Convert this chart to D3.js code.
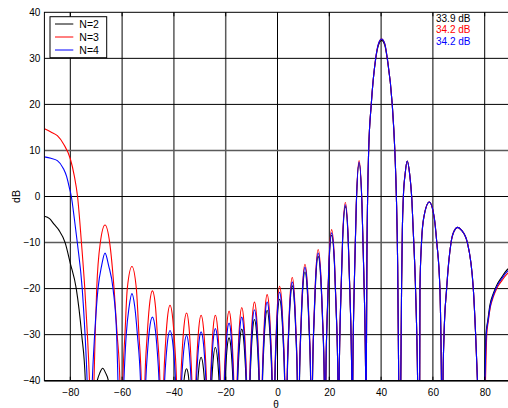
<!DOCTYPE html>
<html><head><meta charset="utf-8">
<script src="https://cdn.jsdelivr.net/npm/d3@7"></script>
<style>
html,body{margin:0;padding:0;background:#fff;}
svg{display:block;font-family:"Liberation Sans",Arial,sans-serif;}
</style></head>
<body><svg id="c" width="508" height="408"></svg>
<script>
// ---- data (theta in degrees, level in dB; -60 marks a null below the axis) ----
const xTicks = [-80, -60, -40, -20, 0, 20, 40, 60, 80];
const yTicks = [-40, -30, -20, -10, 0, 10, 20, 30, 40];
const seriesNames = ["N=2", "N=3", "N=4"];
const peakLabels = ["33.9 dB", "34.2 dB", "34.2 dB"];

const n2 = [
 [-90,-4.3],[-88,-4.8],[-86.3,-6.0],[-84.4,-7.3],[-82.0,-10],[-80,-14.5],[-77.7,-20],[-75.6,-30],[-74.2,-40],[-73.4,-60],
 [-69.6,-40],[-68.6,-38.3],[-67.5,-37.3],[-66.4,-38.3],[-65.3,-40],[-63.5,-60],[-38.2,-60],
 [-36.12,-40],[-35.82,-38.7],[-35.1,-37.4],[-34.45,-38.7],[-34.18,-40],[-32.3,-60],
 [-30.76,-40],[-30.39,-37.45],[-29.5,-34.9],[-28.58,-37.45],[-28.19,-40],[-26.6,-60],
 [-25.38,-40],[-24.97,-36.4],[-24.0,-32.8],[-22.99,-36.4],[-22.57,-40],[-21.3,-60],
 [-20.26,-40],[-19.8,-35.35],[-19.4,-32.56],[-18.7,-30.7],[-18.03,-32.56],[-17.64,-35.35],[-17.2,-40],[-16.2,-60],
 [-15.38,-40],[-14.92,-34.4],[-14.51,-31.04],[-13.8,-28.8],[-13.06,-31.04],[-12.63,-34.4],[-12.15,-40],[-11.3,-60],
 [-10.58,-40],[-10.09,-33.35],[-9.65,-29.36],[-8.9,-26.7],[-8.12,-29.36],[-7.66,-33.35],[-7.15,-40],[-6.4,-60],
 [-5.78,-40],[-5.26,-32.35],[-4.8,-27.76],[-4.0,-24.7],[-3.17,-27.76],[-2.69,-32.35],[-2.15,-40],[-1.5,-60],
 [-0.99,-40],[-0.47,-31.15],[0.0,-25.84],[0.8,-22.3],[1.67,-25.84],[2.18,-31.15],[2.75,-40],[3.3,-60],
 [3.76,-40],[4.33,-29.7],[4.83,-23.52],[5.7,-19.4],[6.57,-23.52],[7.07,-29.7],[7.64,-40],[8.1,-60],
 [8.5,-40],[9.12,-28.2],[9.66,-21.12],[10.6,-16.4],[11.57,-21.12],[12.14,-28.2],[12.78,-40],[13.2,-60],
 [13.52,-40],[14.16,-26.5],[14.73,-18.4],[15.7,-13.0],[16.75,-18.4],[17.36,-26.5],[18.05,-40],[18.4,-60],
 [18.65,-40],[19.31,-24.2],[19.89,-14.72],[20.9,-8.4],[21.99,-14.72],[22.62,-24.2],[23.33,-40],[23.6,-60],
 [23.81,-40],[24.51,-21.1],[25.13,-9.76],[26.2,-2.2],[27.31,-9.76],[27.96,-21.1],[28.68,-40],[28.9,-60],
 [29.06,-40],[29.77,-16.35],[30.41,-2.16],[31.5,7.3],[32.63,-2.16],[33.3,-16.35],[34.04,-40],[34.15,-60],
 [34.3,-40],[34.5,-15],[34.8,0],[35.2,10],[36.2,20],[37.9,29.8],[39.0,32.9],[40.2,33.9],[41.4,32.9],[42.4,29.8],[44.3,20],[45.3,10],[45.9,0],[46.4,-15],[46.8,-40],[47.2,-60],
 [47.6,-40],[47.9,-20],[48.2,-7.3],[48.6,0],[49.3,5],[50.1,7.7],[51.0,5],[51.8,0],[52.4,-7.3],[53.3,-20],[54.1,-40],[54.5,-60],
 [54.9,-40],[55.0,-20],[55.6,-10],[56.5,-4.5],[58.6,-1.2],[60.5,-4.5],[61.5,-10],[62.7,-20],[63.3,-40],[63.6,-60],
 [63.9,-40],[64.3,-30],[65.3,-20],[67.0,-10],[68.2,-7.5],[69.6,-6.7],[71.0,-7.3],[73.3,-10],[75.6,-20],[76.5,-30],[77.2,-40],[78.6,-60],
 [80.0,-40],[80.5,-30],[81.2,-26.9],[82.0,-23.6],[83.3,-21.1],[84.6,-19.3],[86.6,-17.5],[89.1,-15.7],[90,-15.5]
];

const n3 = [
 [-90,14.7],[-87.5,14.0],[-85,13.2],[-82.5,11.3],[-80,8.2],[-78.5,4.6],[-77.2,0],[-75.7,-10],[-74.4,-20],[-73.4,-30],[-72.6,-40],[-71.6,-60],
 [-70.85,-40],[-70.4,-30],[-69.8,-20],[-68.4,-10],[-66.6,-6.2],[-64.8,-10],[-63.1,-20],[-61.9,-30],[-60.85,-40],[-60.3,-60],
 [-59.7,-40],[-58.9,-30],[-58.0,-20],[-56.2,-15.2],[-54.5,-20],[-53.5,-30],[-52.6,-40],[-51.9,-60],
 [-51.2,-40],[-50.3,-30],[-49.5,-24],[-48.3,-20.5],[-47.1,-24],[-46.4,-30],[-45.4,-40],[-44.7,-60],
 [-43.93,-40],[-43.22,-31.8],[-42.59,-26.9],[-41.5,-23.6],[-40.38,-26.9],[-39.73,-31.8],[-38.99,-40],[-38.2,-60],
 [-37.36,-40],[-36.70,-32.65],[-36.11,-28.2],[-35.1,-25.3],[-34.19,-28.2],[-33.66,-32.65],[-33.06,-40],[-32.3,-60],
 [-31.52,-40],[-30.93,-32.9],[-30.40,-28.6],[-29.5,-25.8],[-28.57,-28.6],[-28.02,-32.9],[-27.41,-40],[-26.6,-60],
 [-25.87,-40],[-25.32,-32.9],[-24.84,-28.6],[-24.0,-25.8],[-23.13,-28.6],[-22.63,-32.9],[-22.06,-40],[-21.3,-60],
 [-20.6,-40],[-20.04,-32.45],[-19.55,-27.9],[-18.7,-24.9],[-17.88,-27.9],[-17.41,-32.45],[-16.87,-40],[-16.2,-60],
 [-15.6,-40],[-15.07,-32.05],[-14.6,-27.3],[-13.8,-24.1],[-12.96,-27.3],[-12.47,-32.05],[-11.93,-40],[-11.3,-60],
 [-10.75,-40],[-10.21,-31.45],[-9.73,-26.3],[-8.9,-22.9],[-8.04,-26.3],[-7.54,-31.45],[-6.97,-40],[-6.4,-60],
 [-5.9,-40],[-5.34,-30.65],[-4.85,-25.0],[-4.0,-21.3],[-3.12,-25.0],[-2.6,-30.65],[-2.02,-40],[-1.5,-60],
 [-1.06,-40],[-0.52,-29.75],[-0.03,-23.6],[0.8,-19.5],[1.71,-23.6],[2.23,-29.75],[2.83,-40],[3.3,-60],
 [3.71,-40],[4.29,-28.8],[4.81,-22.1],[5.7,-17.6],[6.59,-22.1],[7.11,-28.8],[7.69,-40],[8.1,-60],
 [8.45,-40],[9.08,-27.35],[9.64,-19.8],[10.6,-14.7],[11.6,-19.8],[12.18,-27.35],[12.84,-40],[13.2,-60],
 [13.5,-40],[14.14,-25.75],[14.72,-17.2],[15.7,-11.5],[16.76,-17.2],[17.38,-25.75],[18.08,-40],[18.4,-60],
 [18.65,-40],[19.31,-23.6],[19.89,-13.76],[20.9,-7.2],[21.99,-13.76],[22.62,-23.6],[23.33,-40],[23.6,-60],
 [23.81,-40],[24.51,-20.65],[25.13,-9.04],[26.2,-1.3],[27.31,-9.04],[27.96,-20.65],[28.68,-40],[28.9,-60],
 [29.06,-40],[29.77,-16.1],[30.41,-1.76],[31.5,7.8],[32.63,-1.76],[33.3,-16.1],[34.04,-40],[34.15,-60],
 [34.3,-40],[34.5,-15],[34.8,0],[35.2,10],[36.2,20],[37.9,30],[39.0,33.2],[40.2,34.2],[41.4,33.2],[42.4,30],[44.3,20],[45.3,10],[45.9,0],[46.4,-15],[46.8,-40],[47.2,-60],
 [47.6,-40],[47.9,-20],[48.2,-7.3],[48.6,0],[49.3,5],[50.1,7.7],[51.0,5],[51.8,0],[52.4,-7.3],[53.3,-20],[54.1,-40],[54.5,-60],
 [54.9,-40],[55.0,-20],[55.6,-10],[56.5,-4.5],[58.6,-1.2],[60.5,-4.5],[61.5,-10],[62.7,-20],[63.3,-40],[63.6,-60],
 [63.9,-40],[64.3,-30],[65.3,-20],[67.0,-10],[68.2,-7.5],[69.6,-6.7],[71.0,-7.3],[73.3,-10],[75.6,-20],[76.5,-30],[77.2,-40],[78.6,-60],
 [80.3,-40],[80.8,-30],[81.4,-27],[82.2,-24],[83.4,-21.7],[84.7,-19.9],[86.7,-18.2],[89.1,-16.6],[90,-16.4]
];

const n4 = [
 [-90,8.6],[-87.5,8.3],[-85,7.8],[-82.7,6.1],[-81.4,4.3],[-80.4,2],[-79.6,0],[-78.4,-5],[-77.3,-10],[-75.4,-20],[-74.3,-30],[-73.5,-40],[-72.5,-60],
 [-71.5,-40],[-70.6,-30],[-69.3,-20],[-67.9,-15],[-66.6,-12.3],[-65.2,-15],[-63.5,-20],[-62.1,-30],[-61.6,-40],[-60.4,-60],
 [-59.3,-40],[-58.4,-30],[-57.3,-24],[-56.2,-21.1],[-55.1,-24],[-54.1,-30],[-52.9,-40],[-51.9,-60],
 [-50.86,-40],[-50.11,-33.1],[-49.44,-28.96],[-48.3,-26.2],[-47.16,-28.96],[-46.49,-33.1],[-45.74,-40],[-44.7,-60],
 [-43.58,-40],[-42.97,-34.55],[-42.43,-31.3],[-41.5,-29.1],[-40.54,-31.3],[-39.98,-34.55],[-39.35,-40],[-38.2,-60],
 [-37.02,-40],[-36.46,-35.1],[-35.96,-32.2],[-35.1,-30.2],[-34.32,-32.2],[-33.87,-35.1],[-33.36,-40],[-32.3,-60],
 [-31.29,-40],[-30.77,-34.7],[-30.30,-31.52],[-29.5,-29.4],[-28.67,-31.52],[-28.19,-34.7],[-27.64,-40],[-26.6,-60],
 [-25.72,-40],[-25.21,-34.35],[-24.77,-30.96],[-24.0,-28.7],[-23.2,-30.96],[-22.74,-34.35],[-22.22,-40],[-21.3,-60],
 [-20.47,-40],[-19.95,-33.75],[-19.51,-30.0],[-18.7,-27.5],[-17.94,-30.0],[-17.5,-33.75],[-17.0,-40],[-16.2,-60],
 [-15.5,-40],[-15.0,-33.1],[-14.56,-28.96],[-13.8,-26.2],[-13.01,-28.96],[-12.54,-33.1],[-12.02,-40],[-11.3,-60],
 [-10.68,-40],[-10.16,-32.3],[-9.69,-27.68],[-8.9,-24.6],[-8.07,-27.68],[-7.59,-32.3],[-7.05,-40],[-6.4,-60],
 [-5.85,-40],[-5.31,-31.45],[-4.83,-26.32],[-4.0,-22.9],[-3.14,-26.32],[-2.64,-31.45],[-2.07,-40],[-1.5,-60],
 [-1.02,-40],[-0.49,-30.4],[-0.01,-24.64],[0.8,-20.8],[1.68,-24.64],[2.2,-30.4],[2.78,-40],[3.3,-60],
 [3.73,-40],[4.31,-29.3],[4.82,-22.88],[5.7,-18.6],[6.58,-22.88],[7.09,-29.3],[7.67,-40],[8.1,-60],
 [8.47,-40],[9.1,-27.7],[9.65,-20.32],[10.6,-15.4],[11.59,-20.32],[12.16,-27.7],[12.81,-40],[13.2,-60],
 [13.5,-40],[14.14,-26.15],[14.72,-17.84],[15.7,-12.3],[16.76,-17.84],[17.38,-26.15],[18.08,-40],[18.4,-60],
 [18.65,-40],[19.31,-23.95],[19.89,-14.32],[20.9,-7.9],[21.99,-14.32],[22.62,-23.95],[23.33,-40],[23.6,-60],
 [23.81,-40],[24.51,-20.9],[25.13,-9.44],[26.2,-1.8],[27.31,-9.44],[27.96,-20.9],[28.68,-40],[28.9,-60],
 [29.06,-40],[29.77,-16.25],[30.41,-2.0],[31.5,7.5],[32.63,-2.0],[33.3,-16.25],[34.04,-40],[34.15,-60],
 [34.3,-40],[34.5,-15],[34.8,0],[35.2,10],[36.2,20],[37.9,30],[39.0,33.2],[40.2,34.2],[41.4,33.2],[42.4,30],[44.3,20],[45.3,10],[45.9,0],[46.4,-15],[46.8,-40],[47.2,-60],
 [47.6,-40],[47.9,-20],[48.2,-7.3],[48.6,0],[49.3,5],[50.1,7.7],[51.0,5],[51.8,0],[52.4,-7.3],[53.3,-20],[54.1,-40],[54.5,-60],
 [54.9,-40],[55.0,-20],[55.6,-10],[56.5,-4.5],[58.6,-1.2],[60.5,-4.5],[61.5,-10],[62.7,-20],[63.3,-40],[63.6,-60],
 [63.9,-40],[64.3,-30],[65.3,-20],[67.0,-10],[68.2,-7.5],[69.6,-6.7],[71.0,-7.3],[73.3,-10],[75.6,-20],[76.5,-30],[77.2,-40],[78.6,-60],
 [80.1,-40],[80.6,-30],[81.3,-27],[82.1,-23.9],[83.35,-21.4],[84.65,-19.6],[86.65,-17.8],[89.1,-16.1],[90,-15.9]
];

// ---- drawing ----
const colors = ["#000000", "#ff0000", "#0000ff"];
const series = [n2, n3, n4];
const svg = d3.select("#c");
const L = 44.4, R = 510.6, T = 12.3, B = 380.7;
const x = d3.scaleLinear().domain([-90, 90]).range([L, R]);
const y = d3.scaleLinear().domain([-40, 40]).range([B, T]);

svg.append("rect").attr("width", 508).attr("height", 408).attr("fill", "#fff");

// grid
const lightX = v => v === -40 || v === -20;
const lightY = v => v === 10 || v === -10;
const grid = svg.append("g");
grid.selectAll("line.gx").data(xTicks).join("line")
  .attr("x1", d => x(d)).attr("x2", d => x(d)).attr("y1", T).attr("y2", B)
  .attr("stroke", d => lightX(d) ? "#5a5a5a" : "#000")
  .attr("stroke-width", d => lightX(d) ? 1.5 : 1);
grid.selectAll("line.gy").data(yTicks.filter(v => v > -40 && v < 40)).join("line")
  .attr("x1", L).attr("x2", R).attr("y1", d => y(d)).attr("y2", d => y(d))
  .attr("stroke", d => lightY(d) ? "#5a5a5a" : "#000")
  .attr("stroke-width", d => lightY(d) ? 1.5 : 1);

// curves
svg.append("clipPath").attr("id", "clip").append("rect")
  .attr("x", L).attr("y", T).attr("width", R - L).attr("height", B - T);
const line = d3.line().x(d => x(d[0])).y(d => y(d[1])).curve(d3.curveMonotoneX);
const cg = svg.append("g").attr("clip-path", "url(#clip)");
series.forEach((s, i) => {
  cg.append("path").attr("d", line(s)).attr("fill", "none")
    .attr("stroke", colors[i]).attr("stroke-width", 1.1);
});

// frame
svg.append("rect").attr("x", L).attr("y", T).attr("width", R - L).attr("height", B - T)
  .attr("fill", "none").attr("stroke", "#000").attr("stroke-width", 1);
svg.append("line").attr("x1", L).attr("x2", R).attr("y1", B).attr("y2", B)
  .attr("stroke", "#000").attr("stroke-width", 1.6);

// axes (labels)
const xAxis = d3.axisBottom(x).tickValues(xTicks).tickSize(0).tickPadding(8).tickFormat(d3.format("d"));
const gx = svg.append("g").attr("transform", `translate(0,${B})`).call(xAxis);
gx.select(".domain").remove();
gx.selectAll("text").attr("font-size", 10).attr("fill", "#000").attr("font-family", "Liberation Sans, Arial, sans-serif");
const yAxis = d3.axisLeft(y).tickValues(yTicks).tickSize(0).tickPadding(4).tickFormat(d3.format("d"));
const gy = svg.append("g").attr("transform", `translate(${L},0)`).call(yAxis);
gy.select(".domain").remove();
gy.selectAll("text").attr("font-size", 10).attr("fill", "#000").attr("font-family", "Liberation Sans, Arial, sans-serif");

// small inside ticks
svg.append("g").selectAll("line").data(xTicks).join("line")
  .attr("x1", d => x(d)).attr("x2", d => x(d)).attr("y1", B).attr("y2", B - 4).attr("stroke", "#000");
svg.append("g").selectAll("line").data(xTicks).join("line")
  .attr("x1", d => x(d)).attr("x2", d => x(d)).attr("y1", T).attr("y2", T + 4).attr("stroke", "#000");

// axis titles
svg.append("text").attr("x", 276).attr("y", 407.5).attr("text-anchor", "middle")
  .attr("font-size", 10).text("θ");
svg.append("text").attr("transform", `translate(19.5,${y(0)}) rotate(-90)`).attr("text-anchor", "middle")
  .attr("font-size", 10.5).text("dB");

// legend
const lg = svg.append("g");
lg.append("rect").attr("x", 50).attr("y", 16.7).attr("width", 56.7).attr("height", 41)
  .attr("fill", "#fff").attr("stroke", "#000").attr("stroke-width", 1);
seriesNames.forEach((n, i) => {
  const yy = 24 + i * 13;
  lg.append("line").attr("x1", 55).attr("x2", 73.3).attr("y1", yy).attr("y2", yy)
    .attr("stroke", colors[i]).attr("stroke-width", 1);
  lg.append("text").attr("x", 79.3).attr("y", yy + 3.8).attr("font-size", 10.5).attr("fill", "#000").text(n);
});

// peak annotations
peakLabels.forEach((t, i) => {
  svg.append("text").attr("x", 436).attr("y", 21.7 + i * 11.5).attr("font-size", 10)
    .attr("fill", colors[i]).text(t);
});
</script>
</body></html>
